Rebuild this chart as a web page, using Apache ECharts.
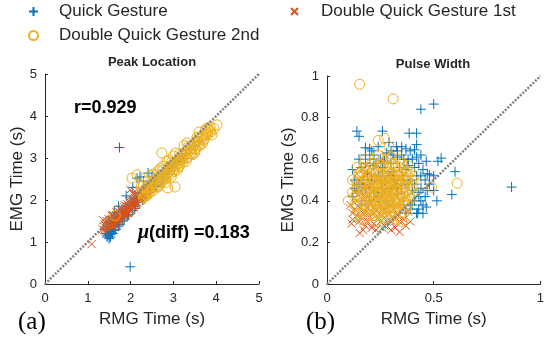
<!DOCTYPE html>
<html>
<head>
<meta charset="utf-8">
<script src="https://cdn.jsdelivr.net/npm/echarts@6.0.0/dist/echarts.min.js"></script>
<style>
  html, body { margin: 0; padding: 0; background: #fff; }
  #chart { width: 547px; height: 339px; }
</style>
</head>
<body>
<div id="chart"></div>
<script>
// legend / series names
const seriesNames = ['Quick Gesture', 'Double Quick Gesture 1st', 'Double Quick Gesture 2nd'];

// (a) Peak Location: [RMG time, EMG time] in s
const peakQuick = [
  [1.45,1.12],[1.5,1.18],[1.52,1.25],[1.48,1.3],[1.58,1.2],[1.6,1.38],[1.55,1.45],[1.65,1.3],
  [1.7,1.48],[1.68,1.55],[1.75,1.42],[1.8,1.6],[1.78,1.7],[1.85,1.55],[1.9,1.72],[1.88,1.8],
  [1.95,1.65],[2.0,1.85],[2.02,1.95],[2.1,1.8],[2.08,2.05],[2.15,1.95],[2.2,2.1],[2.18,2.0],
  [2.25,2.05],[2.3,2.2],[2.35,2.15],[2.4,2.3],[2.45,2.25],[2.5,2.35],[2.55,2.4],[2.6,2.45],
  [2.65,2.5],[2.7,2.55],[2.75,2.6],[2.8,2.62],[2.85,2.7],[2.9,2.75],[2.95,2.78],[3.0,2.85],
  [3.05,2.9],[3.1,2.92],[3.15,3.0],[3.2,3.05],[3.3,3.1],[3.4,3.2],[3.5,3.3],[3.6,3.4],
  [1.74,3.25],[1.99,0.41],[2.15,2.52],[2.22,2.55],[2.41,2.64],[2.05,2.3],[1.62,1.7],[1.72,1.85],
  [1.9,2.1],[2.3,2.45],[2.5,2.55],[2.6,2.35],[2.75,2.45],[1.55,1.6],[1.42,1.2],[1.5,1.08],
  [1.47,1.15],[1.53,1.12],[1.56,1.22],[1.62,1.28],[1.72,1.38],[1.82,1.5],[1.92,1.62],[2.05,1.75],
  [2.12,1.86],[2.28,2.0],[2.42,2.18],[2.58,2.32],[2.72,2.48],[2.88,2.62],[3.02,2.76],[3.25,2.98]
];
const peakFirst = [
  [1.09,0.95],[1.36,1.52],[1.99,2.24],[1.35,1.3],[1.4,1.35],[1.42,1.25],[1.45,1.42],[1.5,1.4],
  [1.5,1.5],[1.55,1.45],[1.55,1.55],[1.58,1.38],[1.6,1.5],[1.62,1.6],[1.65,1.45],[1.65,1.58],
  [1.68,1.66],[1.7,1.55],[1.72,1.62],[1.75,1.7],[1.75,1.58],[1.78,1.75],[1.8,1.65],[1.82,1.78],
  [1.85,1.72],[1.85,1.82],[1.88,1.68],[1.9,1.8],[1.92,1.9],[1.95,1.78],[1.95,1.88],[1.98,1.95],
  [2.0,1.82],[2.02,1.92],[2.05,2.0],[2.05,1.88],[2.08,1.95],[2.1,2.05],[2.12,1.98],[2.15,2.08],
  [2.18,2.02],[2.2,2.12],[2.22,2.05],[2.25,2.15],[2.28,2.1],[2.3,2.2],[2.35,2.18],[2.38,2.25],
  [2.42,2.28],[2.45,2.32],[1.6,1.42],[1.7,1.68],[1.8,1.72],[1.9,1.85],[2.0,1.98],[2.1,1.92],
  [2.2,2.2],[2.3,2.08],[1.48,1.55],[1.58,1.65],[2.05,2.15],[1.45,1.32],
  [1.4,1.42],[1.43,1.38],[1.47,1.46],[1.52,1.44],[1.53,1.36],[1.57,1.5],[1.6,1.56],[1.63,1.52],
  [1.64,1.4],[1.67,1.6],[1.69,1.5],[1.71,1.58],[1.73,1.66],[1.74,1.52],[1.77,1.62],[1.79,1.68],
  [1.81,1.58],[1.83,1.74],[1.84,1.66],[1.87,1.76],[1.89,1.62],[1.91,1.74],[1.93,1.84],[1.94,1.7],
  [1.97,1.8],[1.99,1.9],[2.01,1.76],[2.03,1.86],[2.06,1.94],[2.07,1.82],[2.09,2.0],[2.11,1.88],
  [2.13,2.02],[2.16,1.94],[2.17,2.12],[2.19,2.06],[2.21,1.98],[2.23,2.1],[2.26,2.02],[2.27,2.18],
  [2.29,2.14],[2.32,2.12],[2.33,2.24],[2.36,2.2],[2.4,2.22],[1.38,1.28],[1.44,1.5],[1.56,1.62],
  [1.66,1.72],[1.76,1.78],[1.86,1.88],[1.96,1.98],[2.12,2.14],
  [1.42,1.46],[1.46,1.36],[1.51,1.48],[1.54,1.4],[1.59,1.54],[1.61,1.46],[1.66,1.54],[1.69,1.62],
  [1.72,1.5],[1.76,1.66],[1.79,1.6],[1.83,1.7],[1.86,1.64],[1.89,1.78],[1.92,1.68],[1.96,1.84],
  [1.99,1.74],[2.03,1.9],[2.06,1.84],[2.09,1.96],[2.14,1.9],[2.17,2.04],[2.21,2.1],[2.24,2.0],
  [2.27,2.12],[2.31,2.16],[2.34,2.1],[2.37,2.22],[2.41,2.2],[2.44,2.26],[2.47,2.3],[2.39,2.3],
  [2.25,2.22],[2.15,2.16],[1.7,1.74]
];
const peakSecond = [
  [1.64,1.63],[2.15,2.6],[2.03,2.52],[2.73,3.12],[3.32,3.36],[3.86,3.74],[4.02,3.79],[3.04,2.31],
  [2.87,2.29],[2.3,2.05],[2.38,2.1],[2.44,2.18],
  [2.3,2.2],[2.35,2.12],
  [2.4,2.3],[2.45,2.2],[2.5,2.38],[2.5,2.28],[2.55,2.45],[2.6,2.35],[2.6,2.5],[2.65,2.42],
  [2.7,2.58],[2.7,2.48],[2.75,2.55],[2.8,2.65],[2.8,2.52],[2.85,2.7],[2.85,2.6],[2.9,2.68],
  [2.9,2.8],[2.95,2.75],[3.0,2.85],[3.0,2.72],[3.05,2.9],[3.05,2.8],[3.1,2.95],[3.1,2.85],
  [3.15,3.0],[3.2,2.95],[3.2,3.08],[3.25,3.05],[3.3,3.15],[3.3,3.02],[3.35,3.2],[3.4,3.12],
  [3.4,3.28],[3.45,3.25],[3.5,3.35],[3.5,3.22],[3.55,3.4],[3.6,3.32],[3.6,3.48],[3.65,3.45],
  [3.7,3.55],[3.7,3.42],[3.75,3.58],[3.8,3.6],[3.85,3.65],[2.3,2.35],[2.4,2.45],[2.55,2.62],
  [2.65,2.7],[2.75,2.8],[3.0,3.05],[3.25,3.3],[2.25,2.32],[2.62,2.3],[2.95,2.55],[3.15,2.82],
  [3.45,3.08],[3.6,3.62],[3.8,3.72],[2.45,2.58],[2.9,2.95],
  [2.28,2.15],[2.32,2.08],[2.38,2.22],
  [2.42,2.15],[2.48,2.32],[2.52,2.22],[2.58,2.4],[2.63,2.32],[2.68,2.5],[2.72,2.42],[2.78,2.58],
  [2.82,2.5],[2.88,2.66],[2.92,2.6],[2.98,2.8],[3.02,2.68],[3.08,2.86],[3.12,2.78],[3.18,2.98],
  [3.22,2.9],[3.28,3.08],[3.32,3.0],[3.38,3.18],[3.42,3.1],[3.48,3.3],[3.52,3.2],[3.58,3.38],
  [3.62,3.3],[3.68,3.5],[3.72,3.45],[3.78,3.55],[3.82,3.68],[3.88,3.62],[2.35,2.28],[2.55,2.5],
  [2.75,2.7],[2.95,2.9],[3.15,3.1],[3.35,3.28],[3.55,3.5],[3.75,3.68],[2.68,2.36],[2.82,2.42],
  [3.1,2.72],[3.3,2.92],[3.5,3.12],[3.68,3.35],[3.9,3.55],[3.95,3.7],[2.5,2.6],[2.7,2.75],
  [2.85,2.92],[3.05,3.12]
];

// (b) Pulse Width: [RMG time, EMG time] in s
const widthQuick = [
  [0.14,0.735],[0.15,0.71],[0.26,0.735],[0.385,0.725],[0.42,0.725],[0.42,0.67],[0.41,0.645],
  [0.18,0.655],[0.2,0.65],[0.325,0.66],[0.535,0.605],[0.52,0.59],[0.465,0.59],[0.48,0.525],
  [0.515,0.40],[0.585,0.43],[0.6,0.54],[0.42,0.34],[0.465,0.37],[0.44,0.84],[0.5,0.865],
  [0.865,0.466],[0.425,0.34],
  [0.12,0.55],[0.15,0.6],[0.18,0.58],[0.22,0.62],[0.25,0.6],[0.28,0.63],[0.3,0.58],[0.33,0.61],
  [0.36,0.6],[0.38,0.57],[0.4,0.6],[0.43,0.58],[0.45,0.55],[0.42,0.52],[0.46,0.5],[0.44,0.46],
  [0.47,0.45],[0.43,0.42],[0.45,0.38],[0.41,0.4],[0.38,0.48],[0.35,0.52],[0.32,0.5],[0.3,0.46],
  [0.27,0.5],[0.24,0.52],[0.2,0.48],[0.17,0.5],[0.14,0.45],[0.12,0.42],[0.16,0.38],[0.2,0.4],
  [0.24,0.42],[0.28,0.4],[0.33,0.43],[0.36,0.38],[0.39,0.36],[0.4,0.45],[0.37,0.55],[0.34,0.56],
  [0.26,0.56],[0.22,0.57],[0.19,0.53],[0.31,0.54],[0.48,0.48],[0.5,0.52],[0.44,0.62],[0.39,0.64],
  [0.24,0.66],[0.29,0.68],[0.35,0.66],
  [0.13,0.5],[0.16,0.56],[0.2,0.6],[0.23,0.58],[0.27,0.59],[0.31,0.62],[0.35,0.62],[0.38,0.6],
  [0.41,0.56],[0.44,0.52],[0.41,0.48],[0.43,0.44],[0.4,0.38],[0.37,0.34],[0.44,0.4],[0.46,0.42],
  [0.35,0.46],[0.33,0.48],[0.3,0.52],[0.26,0.54],[0.21,0.5],[0.18,0.46],[0.15,0.48],[0.13,0.46],
  [0.18,0.62],[0.21,0.64],[0.3,0.64],[0.33,0.64],[0.37,0.65],[0.42,0.61],[0.47,0.53],[0.5,0.45],
  [0.45,0.34],[0.43,0.36],[0.39,0.5],[0.36,0.5],[0.26,0.46],[0.22,0.44]
];
const widthFirst = [
  [0.153,0.245],[0.115,0.29],[0.34,0.25],[0.275,0.62],[0.15,0.3],[0.18,0.28],[0.2,0.32],[0.22,0.29],
  [0.25,0.3],[0.27,0.28],[0.3,0.3],[0.32,0.27],[0.17,0.34],[0.13,0.36],[0.14,0.4],[0.19,0.37],
  [0.23,0.35],[0.26,0.36],[0.29,0.34],[0.33,0.33],[0.36,0.31],[0.38,0.35],[0.16,0.44],[0.18,0.42],
  [0.21,0.4],[0.24,0.39],[0.27,0.41],[0.3,0.38],[0.34,0.4],[0.37,0.42],[0.13,0.48],[0.15,0.5],
  [0.19,0.47],[0.22,0.45],[0.25,0.46],[0.28,0.44],[0.31,0.47],[0.35,0.45],[0.14,0.53],[0.17,0.55],
  [0.21,0.52],[0.24,0.5],[0.29,0.53],[0.32,0.51],[0.26,0.58],[0.2,0.56],[0.39,0.3],[0.11,0.38],
  [0.23,0.26],[0.31,0.36],
  [0.16,0.32],[0.19,0.3],[0.21,0.34],[0.24,0.32],[0.26,0.33],[0.28,0.3],[0.31,0.32],[0.34,0.3],
  [0.14,0.33],[0.12,0.34],[0.18,0.35],[0.2,0.38],[0.22,0.37],[0.25,0.38],[0.28,0.37],[0.32,0.38],
  [0.35,0.36],[0.15,0.37],[0.17,0.4],[0.2,0.43],[0.23,0.42],[0.26,0.43],[0.29,0.42],[0.33,0.42],
  [0.13,0.44],[0.16,0.47],[0.21,0.48],[0.27,0.48],[0.3,0.5],[0.18,0.52],[0.37,0.28],[0.12,0.31],
  [0.17,0.26],[0.21,0.27],[0.26,0.27],[0.3,0.26]
];
const widthSecond = [
  [0.153,0.96],[0.31,0.89],[0.24,0.69],[0.27,0.70],[0.29,0.66],[0.61,0.485],[0.49,0.466],[0.1,0.40],
  [0.12,0.5],[0.14,0.46],[0.16,0.42],[0.13,0.38],[0.15,0.34],[0.18,0.32],[0.2,0.36],[0.22,0.33],
  [0.25,0.35],[0.28,0.32],[0.3,0.35],[0.33,0.36],[0.36,0.34],[0.38,0.38],[0.35,0.42],[0.32,0.4],
  [0.29,0.39],[0.26,0.41],[0.23,0.4],[0.19,0.41],[0.17,0.45],[0.21,0.44],[0.24,0.46],[0.27,0.45],
  [0.3,0.44],[0.33,0.45],[0.36,0.47],[0.39,0.46],[0.41,0.42],[0.4,0.5],[0.37,0.51],[0.34,0.5],
  [0.31,0.49],[0.28,0.49],[0.25,0.5],[0.22,0.49],[0.18,0.49],[0.15,0.53],[0.2,0.53],[0.23,0.54],
  [0.27,0.53],[0.3,0.53],[0.33,0.54],[0.36,0.55],[0.38,0.57],[0.31,0.58],[0.26,0.57],[0.21,0.58],
  [0.17,0.56],[0.24,0.62],[0.28,0.6],[0.34,0.6],[0.12,0.44],[0.14,0.56],[0.35,0.3],[0.27,0.37],
  [0.24,0.43],[0.29,0.42],[0.27,0.47],[0.32,0.47],[0.2,0.38],[0.25,0.39],[0.3,0.41],[0.26,0.32],
  [0.23,0.3],
  [0.16,0.48],[0.19,0.45],[0.22,0.42],[0.25,0.44],[0.28,0.43],[0.31,0.43],[0.34,0.43],[0.37,0.44],
  [0.18,0.38],[0.21,0.36],[0.24,0.37],[0.27,0.35],[0.3,0.37],[0.33,0.39],[0.36,0.4],[0.39,0.41],
  [0.19,0.52],[0.22,0.51],[0.25,0.53],[0.28,0.51],[0.31,0.51],[0.34,0.52],[0.37,0.49],[0.2,0.47],
  [0.23,0.48],[0.26,0.48],[0.29,0.46],[0.32,0.45],[0.35,0.48],[0.38,0.52],[0.17,0.36],[0.15,0.4],
  [0.13,0.42],[0.14,0.49],[0.16,0.54],[0.19,0.56],[0.22,0.55],[0.25,0.56],[0.29,0.56],[0.32,0.56],
  [0.35,0.58],[0.2,0.33],[0.24,0.34],[0.29,0.36],[0.32,0.34],[0.37,0.36],[0.4,0.44],[0.26,0.6],
  [0.3,0.61],[0.22,0.6],[0.18,0.6],[0.39,0.54],[0.42,0.48],[0.16,0.31],[0.3,0.32],[0.33,0.31],
  [0.175,0.395],[0.205,0.415],[0.235,0.385],[0.265,0.425],[0.295,0.395],[0.325,0.415],[0.355,0.435],
  [0.185,0.435],[0.215,0.465],[0.245,0.445],[0.275,0.475],[0.305,0.455],[0.335,0.485],[0.365,0.465],
  [0.195,0.495],[0.225,0.525],[0.255,0.505],[0.285,0.535],[0.315,0.515],[0.345,0.535],[0.375,0.495],
  [0.205,0.355],[0.235,0.345],[0.265,0.375],[0.295,0.345],[0.325,0.375],[0.355,0.385],[0.385,0.425],
  [0.165,0.465],[0.155,0.515],[0.185,0.545],[0.245,0.575],[0.275,0.565],[0.305,0.575],[0.335,0.565],
  [0.215,0.395],[0.285,0.415],[0.315,0.395],[0.345,0.455],[0.255,0.465],[0.225,0.435],[0.195,0.465],
  [0.265,0.515],[0.295,0.495],[0.325,0.525],[0.355,0.515],[0.375,0.545],[0.285,0.38],[0.245,0.41],
  [0.315,0.435],[0.14,0.43],[0.14,0.37],[0.4,0.47],[0.41,0.52],[0.18,0.51],[0.27,0.42],[0.3,0.47],
  [0.24,0.49],[0.33,0.5],[0.21,0.5]
];

// identity reference lines
const peakDiag = [[0, 0], [5, 5]];
const widthDiag = [[0, 0], [1, 1]];

const SANS = 'Liberation Sans, Arial, sans-serif';
const SERIF = 'Liberation Serif, Times New Roman, serif';
const AXIS_COLOR = '#262626';
const BLUE = '#0072BD', ORANGE = '#D95319', YELLOW = '#EDB120';

const PLUS = 'path://M5,0V10M0,5H10';
const CROSS = 'path://M0,0L10,10M10,0L0,10';

const chart = echarts.init(document.getElementById('chart'), null, {renderer: 'canvas'});

function valueAxis(idx, max, interval, name, nameGap) {
  return {
    type: 'value', gridIndex: idx, min: 0, max: max, interval: interval,
    name: name, nameLocation: 'middle', nameGap: nameGap,
    nameTextStyle: {fontFamily: SANS, fontSize: 17, color: AXIS_COLOR},
    axisLine: {show: true, lineStyle: {color: AXIS_COLOR, width: 1}},
    axisTick: {show: true, inside: true, length: 3, lineStyle: {color: AXIS_COLOR}},
    axisLabel: {fontFamily: SANS, fontSize: 13, color: AXIS_COLOR, margin: 8},
    splitLine: {show: false}
  };
}

const markStyle = {
  'Quick Gesture': {symbol: PLUS, size: 10, color: BLUE},
  'Double Quick Gesture 1st': {symbol: CROSS, size: 8, color: ORANGE},
  'Double Quick Gesture 2nd': {symbol: 'circle', size: 10, color: YELLOW}
};

function scatter(name, data, idx) {
  const s = markStyle[name];
  return {
    type: 'scatter', name: name, data: data,
    xAxisIndex: idx, yAxisIndex: idx,
    symbol: s.symbol, symbolSize: s.size,
    itemStyle: {
      color: s.symbol === 'circle' ? 'rgba(0,0,0,0)' : s.color,
      borderColor: s.color, borderWidth: 1, opacity: 1
    },
    emphasis: {disabled: true},
    animation: false
  };
}

function diag(data, idx) {
  return {
    type: 'line', data: data, xAxisIndex: idx, yAxisIndex: idx,
    symbol: 'none', silent: true, animation: false, z: 5,
    lineStyle: {color: '#808080', width: 2.5, type: [2, 1.5]}
  };
}

function legendAt(name, left, top, size, pad) {
  return {
    data: [name], left: left, top: top, padding: 0,
    itemWidth: size, itemHeight: size,
    textStyle: {fontFamily: SANS, fontSize: 17, color: AXIS_COLOR, padding: [0, 0, 0, pad]},
    selectedMode: false
  };
}

chart.setOption({
  backgroundColor: '#fff',
  animation: false,
  legend: [
    legendAt(seriesNames[0], 28, 3, 9, 16),
    legendAt(seriesNames[1], 290, 3, 7, 18),
    legendAt(seriesNames[2], 28, 27, 9, 16)
  ],
  grid: [
    {left: 45, top: 74, width: 214, height: 210},
    {left: 327, top: 76, width: 215, height: 208}
  ],
  xAxis: [
    valueAxis(0, 5, 1, 'RMG Time (s)', 27),
    valueAxis(1, 1, 0.5, 'RMG Time (s)', 27)
  ],
  yAxis: [
    valueAxis(0, 5, 1, 'EMG Time (s)', 17),
    valueAxis(1, 1, 0.2, 'EMG Time (s)', 30)
  ],
  series: [
    scatter(seriesNames[0], peakQuick, 0),
    scatter(seriesNames[1], peakFirst, 0),
    scatter(seriesNames[2], peakSecond, 0),
    diag(peakDiag, 0),
    scatter(seriesNames[0], widthQuick, 1),
    scatter(seriesNames[1], widthFirst, 1),
    scatter(seriesNames[2], widthSecond, 1),
    diag(widthDiag, 1)
  ],
  graphic: [
    {type: 'text', x: 152, y: 62, style: {text: 'Peak Location', font: 'bold 13px ' + SANS, fill: AXIS_COLOR, align: 'center', verticalAlign: 'middle'}},
    {type: 'text', x: 433, y: 64, style: {text: 'Pulse Width', font: 'bold 13px ' + SANS, fill: AXIS_COLOR, align: 'center', verticalAlign: 'middle'}},
    {type: 'text', x: 74, y: 108, style: {text: 'r=0.929', font: 'bold 18px ' + SANS, fill: '#000', verticalAlign: 'middle'}},
    {type: 'text', x: 138, y: 233, style: {
      text: '{m|μ}(diff) =0.183', font: 'bold 18px ' + SANS, fill: '#000', verticalAlign: 'middle',
      rich: {m: {fontFamily: SERIF, fontStyle: 'italic', fontWeight: 'bold', fontSize: 20, fill: '#000'}}
    }},
    {type: 'text', x: 18, y: 322, style: {text: '(a)', font: '25px ' + SERIF, fill: '#000', verticalAlign: 'middle'}},
    {type: 'text', x: 306, y: 322, style: {text: '(b)', font: '25px ' + SERIF, fill: '#000', verticalAlign: 'middle'}}
  ]
});
</script>
</body>
</html>
